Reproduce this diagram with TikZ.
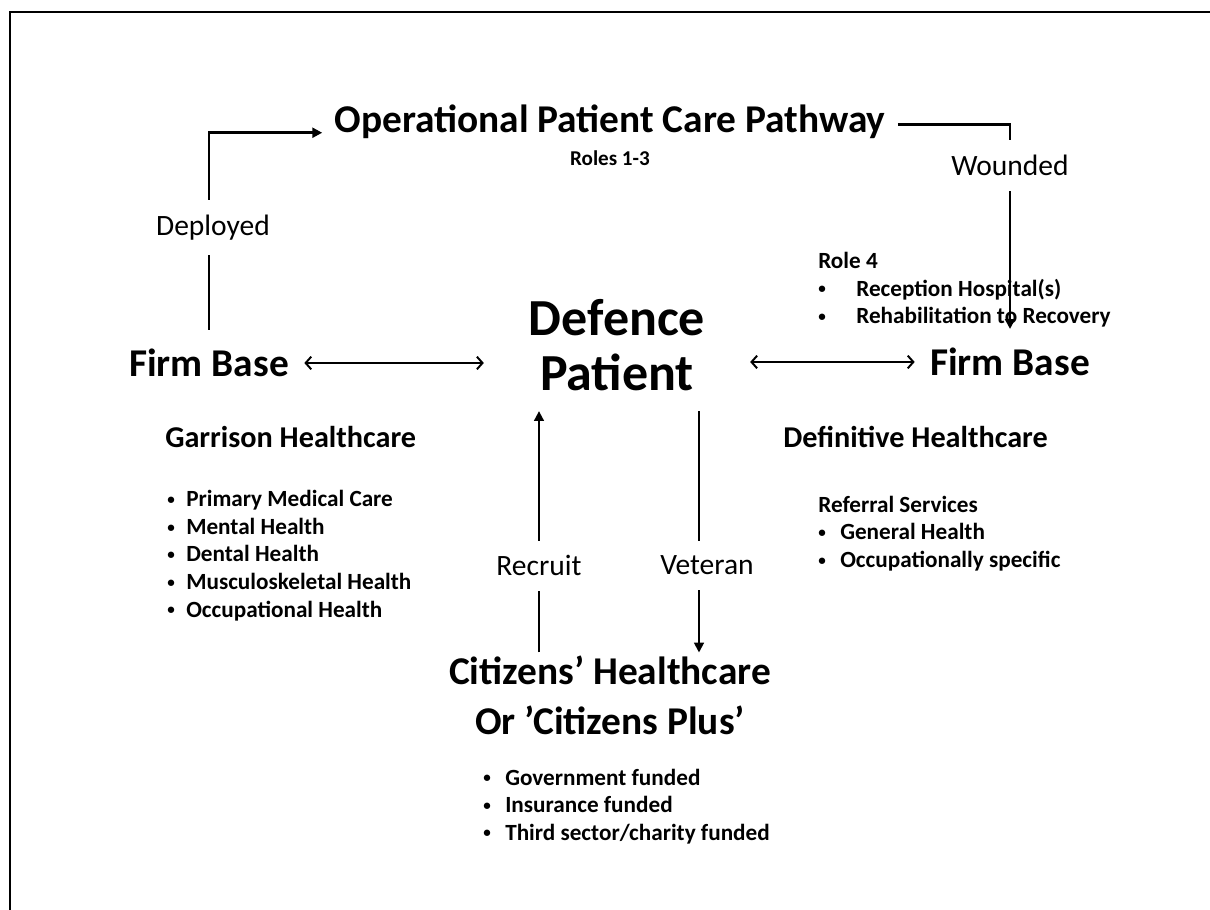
\documentclass[tikz,border=0pt]{standalone}
\usepackage{fontspec}
\setmainfont{Carlito}
\usetikzlibrary{arrows.meta}

% small bullet set in a box of fixed width, so the item texts line up
\newcommand{\bul}[1][0.55cm]{\makebox[#1][l]{\raisebox{0.1em}{\scalebox{0.65}{\textbullet}}}}

\begin{document}
\begin{tikzpicture}[align=center]
\tikzstyle{head} = [font=\bfseries\fontsize{28}{34}\selectfont]
\tikzstyle{firm} = [head, inner xsep=0.38cm, inner ysep=0.47cm]
\tikzstyle{sub} = [font=\bfseries\fontsize{21.5}{26}\selectfont, inner sep=0pt]
\tikzstyle{list} = [font=\bfseries\fontsize{16.5}{19.6}\selectfont, align=left, inner sep=0pt]
\tikzstyle{tag} = [font=\fontsize{21}{25}\selectfont, fill=white, inner xsep=2pt, inner ysep=0.37cm]
\tikzstyle{flow} = [line width=2.1pt, -{Triangle[length=7pt,width=7pt]}]
\tikzstyle{move} = [line width=1.4pt, -{Triangle[length=7pt,width=7pt]}]
\tikzstyle{link} = [line width=1.4pt, {Straight Barb[length=4pt,width=9pt]}-{Straight Barb[length=4pt,width=9pt]}]

\useasboundingbox (0,0) rectangle (30.25,22.75);
\draw [line width=1.4pt] (0.25,0) -- (0.25,22.45) -- (30.25,22.45);

\path
    (15.25,19.7) node[head, inner xsep=0.3cm] (title) {Operational Patient Care Pathway}
    (15.25,18.8) node[font=\bfseries\fontsize{15}{18}\selectfont] (roles) {Roles 1-3}
    (15.425,14.12) node[font=\bfseries\fontsize{37}{39}\selectfont, inner xsep=1.12cm, inner ysep=0.5cm] (dp) {Defence\\Patient}
    (5.225,13.675) node[firm] (fbl) {Firm Base}
    (25.25,13.7) node[firm] (fbr) {Firm Base}
    (4.125,11.825) node[sub, anchor=west] (garrison) {Garrison Healthcare}
    (4.175,8.86) node[list, anchor=west] (garrlist) {\bul[0.475cm]Primary Medical Care\\\bul[0.475cm]Mental Health\\\bul[0.475cm]Dental Health\\\bul[0.475cm]Musculoskeletal Health\\\bul[0.475cm]Occupational Health}
    (19.575,11.825) node[sub, anchor=west] (definitive) {Definitive Healthcare}
    (20.45,9.41) node[list, anchor=west] (referral) {Referral Services\\\bul General Health\\\bul Occupationally specific}
    (20.45,15.5) node[list, anchor=west] (role4) {Role 4\\\bul[0.95cm]Reception Hospital(s)\\\bul[0.95cm]Rehabilitation to Recovery}
    (15.25,5.375) node[head, font=\bfseries\fontsize{28}{35.5}\selectfont, inner sep=2pt] (citizens) {Citizens’ Healthcare\\Or ’Citizens Plus’}
    (12.075,2.59) node[list, anchor=west] (citlist) {\bul Government funded\\\bul Insurance funded\\\bul Third sector/charity funded};

\coordinate (rx) at (13.475,0);
\coordinate (vx) at (17.475,0);

\draw [flow] (fbl.north) |- (title.base west) node[tag, pos=0.26, xshift=0.1cm] (deployed) {Deployed};
\draw [flow] ([yshift=-2pt]title.east) -| (fbr.north) node[tag, pos=0.6] (wounded) {Wounded};
\draw [link] (fbl.east) -- (fbl.east -| dp.west);
\draw [link] (dp.east |- fbr.west) -- (fbr.west);
\draw [move] (citizens.north -| rx) -- (dp.south -| rx) node[tag, pos=0.36] (recruit) {Recruit};
\draw [move] (dp.south -| vx) -- (citizens.north -| vx) node[tag, pos=0.64, xshift=0.2cm] (veteran) {Veteran};
\end{tikzpicture}
\end{document}
